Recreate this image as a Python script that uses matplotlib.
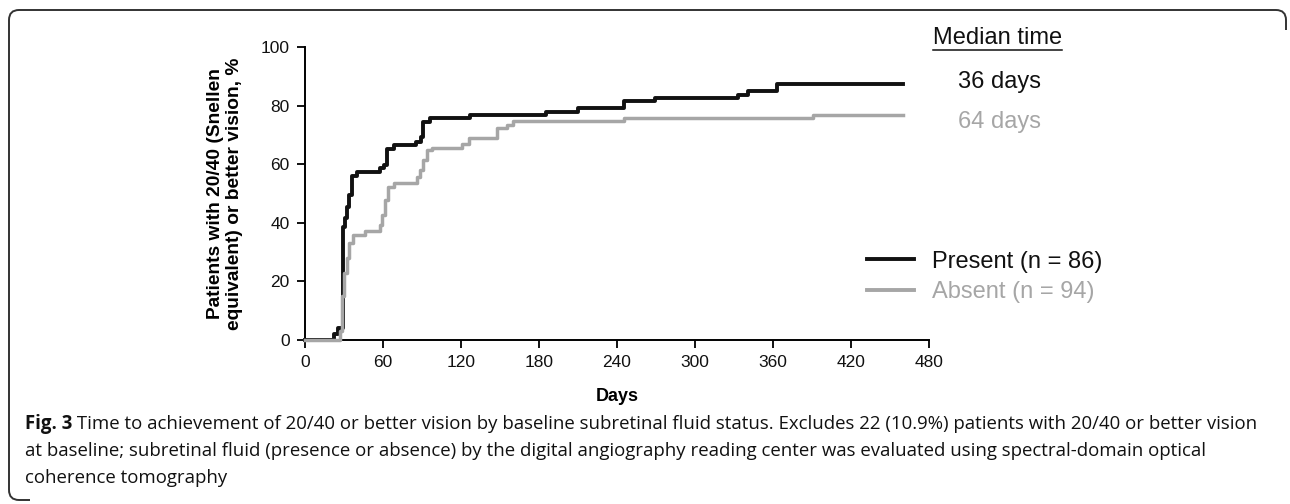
import matplotlib
matplotlib.use("Agg")
import matplotlib.pyplot as plt
from matplotlib.lines import Line2D
from matplotlib.path import Path
from matplotlib.patches import PathPatch

# Kaplan-Meier style step curves
present_days = [0, 22, 25, 29, 30.5, 32, 34, 36.5, 40, 57.5, 60.5, 63, 68.5, 85,
                89.5, 91, 96, 127, 185, 210, 245, 269, 333, 341, 363, 460]
present_pct = [0, 2, 4, 38.5, 41.5, 45.5, 49.5, 56, 57.3, 58.6, 59.7, 65.3, 66.6,
               67.5, 69.4, 74.5, 75.6, 76.7, 77.9, 79.1, 81.5, 82.6, 83.7, 85.0,
               87.4, 87.4]

absent_days = [0, 27, 28.7, 30.3, 32, 34, 37, 46, 57.5, 59.5, 61.5, 64, 68.5, 86,
               88.5, 91, 94, 98, 121, 126, 148, 155, 160, 245, 391, 460]
absent_pct = [0, 3, 15, 23, 28, 33, 36, 37.2, 39.2, 42.7, 47.8, 52.3, 53.5, 55.7,
              58, 61.4, 64.8, 65.6, 66.8, 69.0, 72.5, 73.5, 74.6, 75.6, 76.7, 76.7]

x_ticks = [0, 60, 120, 180, 240, 300, 360, 420, 480]
y_ticks = [0, 20, 40, 60, 80, 100]

series_labels = ["Present (n = 86)", "Absent (n = 94)"]
median_labels = ["36 days", "64 days"]
colors = ["#111111", "#a6a6a6"]

caption_bold = "Fig. 3"
caption_lines = [
    " Time to achievement of 20/40 or better vision by baseline subretinal fluid status. "
    "Excludes 22 (10.9%) patients with 20/40 or better vision",
    "at baseline; subretinal fluid (presence or absence) by the digital angiography "
    "reading center was evaluated using spectral-domain optical",
    "coherence tomography",
]

plt.rcParams["font.family"] = ["Liberation Sans", "DejaVu Sans"]

W, H = 1290, 504
fig = plt.figure(figsize=(W / 100, H / 100), dpi=100)
ax = fig.add_axes([305 / W, 1 - 340 / H, 624 / W, 293 / H])

ax.step(present_days, present_pct, where="post", color=colors[0], lw=2.8,
        clip_on=False, zorder=3)
ax.step(absent_days, absent_pct, where="post", color=colors[1], lw=2.5,
        clip_on=False, zorder=4)

ax.set_xlim(0, 480)
ax.set_ylim(0, 100)
ax.set_xticks(x_ticks)
ax.set_yticks(y_ticks)
for s in ["top", "right"]:
    ax.spines[s].set_visible(False)
for s in ["left", "bottom"]:
    ax.spines[s].set_linewidth(1.4)
ax.tick_params(axis="both", direction="out", length=6, width=1.4,
               labelsize=12.5, pad=5, colors="#111111")

ax.set_xlabel("Days", fontsize=13, fontweight="bold", labelpad=13)
ax.set_ylabel("Patients with 20/40 (Snellen\nequivalent) or better vision, %",
              fontsize=13.8, fontweight="bold", linespacing=1.15)
ax.yaxis.set_label_coords(-0.1, 0.5)

# legend
handles = [Line2D([], [], color=c, lw=2.8) for c in colors]
leg = ax.legend(handles, series_labels, loc="center left",
                bbox_to_anchor=(867 / W, 1 - 277 / H), bbox_transform=fig.transFigure,
                frameon=False, fontsize=17, handlelength=2.0, handletextpad=0.75,
                labelspacing=0.38, borderpad=0, borderaxespad=0,
                labelcolor=colors)

# median time block
mt = fig.text(933 / W, 1 - 38 / H, "Median time", fontsize=17, va="center",
              color="#111111")
for lab, c, yy in zip(median_labels, colors, [82, 122]):
    fig.text(958 / W, 1 - yy / H, lab, fontsize=17, va="center", color=c)

# caption
cap_font = ["Open Sans", "DejaVu Sans"]
cap_size = 13.4
fig.canvas.draw()
r = fig.canvas.get_renderer()
bb = mt.get_window_extent(r)
fig.add_artist(Line2D([bb.x0 / W, bb.x1 / W], [(bb.y0 - 1) / H, (bb.y0 - 1) / H],
                      transform=fig.transFigure, color="#111111", lw=1.1))

fb = fig.text(25 / W, 1 - 429 / H, caption_bold, fontsize=cap_size, fontweight="bold",
              family=cap_font, va="baseline", color="#111111")
bbf = fb.get_window_extent(r)
fig.text(bbf.x1 / W, 1 - 429 / H, caption_lines[0], fontsize=cap_size, family=cap_font,
         va="baseline", color="#111111")
for line, yy in zip(caption_lines[1:], [456, 483]):
    fig.text(25 / W, 1 - yy / H, line, fontsize=cap_size, family=cap_font,
             va="baseline", color="#111111")

# partial rounded frame, in pixel units
rad = 10
top = Path([(1286, H - 30), (1286, H - 10 - rad), (1286, H - 10), (1286 - rad, H - 10),
            (9 + rad, H - 10), (9, H - 10), (9, H - 10 - rad), (9, 4 + rad)],
           [Path.MOVETO, Path.LINETO, Path.CURVE3, Path.CURVE3,
            Path.LINETO, Path.CURVE3, Path.CURVE3, Path.LINETO])
fig.add_artist(PathPatch(top, fill=False, ec="#333333", lw=1.4, transform=None))
bottom = Path([(9, 4 + rad), (9, 4), (9 + rad, 4), (30, 4)],
              [Path.MOVETO, Path.CURVE3, Path.CURVE3, Path.LINETO])
fig.add_artist(PathPatch(bottom, fill=False, ec="#333333", lw=1.4, transform=None))

fig.savefig("out.png", dpi=100)
